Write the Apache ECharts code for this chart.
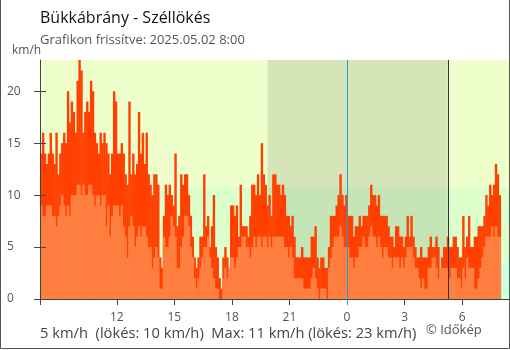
<!DOCTYPE html>
<html><head><meta charset="utf-8">
<script src="https://cdn.jsdelivr.net/npm/echarts@6/dist/echarts.min.js"></script>
<style>html,body{margin:0;padding:0;background:#fff}#c{width:510px;height:350px}</style>
</head><body><div id="c"></div>
<script>
// time axis: hours from 8:00 (day 1) in 0.1 h (6 min) steps
const startHour = 8;
const stepHour = 0.1;
// gusts (km/h), 10 values per hour, 8:00 -> 8:00 next day
const gust = [
 14,16,14,13,14,16,14,13,16,12,
 14,15,16,15,20,17,19,18,16,21,
 23,22,16,18,19,18,21,20,16,15,
 14,16,15,16,15,14,12,14,20,19,
 14,14,15,14,12,11,19,12,14,12,
 13,18,14,16,13,16,12,11,10,12,
 12,11,4,3,8,11,10,11,10,9,
 14,7,8,12,11,12,12,10,8,6,
 4,3,4,6,6,12,7,8,5,7,
 10,5,4,2,1,4,5,4,3,9,
 9,8,9,6,11,7,7,7,6,8,
 11,11,10,12,10,15,12,11,9,10,
 8,12,12,11,11,10,11,10,8,8,
 7,8,6,4,4,4,5,4,4,4,
 4,6,6,7,4,3,4,4,3,3,
 5,8,8,8,9,10,12,10,9,10,
 8,8,8,6,7,7,8,7,8,8,
 8,9,11,10,10,9,10,8,8,8,
 8,7,6,6,5,7,7,6,6,5,
 6,8,6,8,6,5,4,4,5,4,
 4,4,5,6,5,5,6,5,3,4,
 5,5,6,5,5,6,6,5,4,4,
 8,5,6,8,5,5,6,6,7,7,
 7,8,10,9,11,10,11,13,12,10
];
// mean wind speed (km/h)
const wind = [
 9,8,8,9,9,9,8,8,7,8,
 9,10,9,8,9,8,10,10,10,11,
 11,10,11,10,10,11,11,10,9,10,
 10,9,10,10,7,9,6,8,9,9,
 9,8,9,7,6,4,7,8,7,5,
 6,7,6,7,7,6,5,5,3,4,
 5,4,1,1,6,5,5,6,8,7,
 6,3,3,5,6,8,8,7,5,4,
 2,1,2,3,4,5,5,6,4,3,
 2,1,1,0,0,2,3,2,3,4,
 4,3,4,5,5,6,6,5,5,4,
 5,6,5,6,6,5,6,6,5,6,
 5,6,6,6,6,6,6,5,5,4,
 5,4,2,2,2,2,2,1,1,1,
 1,2,3,2,1,0,1,1,1,0,
 3,4,5,6,6,6,7,6,5,5,
 5,4,4,3,4,4,5,5,6,5,
 5,6,7,6,6,5,6,5,4,5,
 5,4,4,3,4,4,4,3,4,3,
 4,5,5,5,4,3,3,2,1,2,
 1,1,3,3,4,4,3,2,3,3,
 3,3,3,2,3,3,3,2,2,1,
 3,2,4,3,3,3,1,1,2,3,
 4,5,6,6,6,7,6,7,6,6
];
const tickHours = [8, 12, 15, 18, 21, 27, 30];
const labelHours = [12, 15, 18, 21, 24, 27, 30];
const yTicks = [0, 5, 10, 15, 20];
const midnight = 24;
const sunset = 19.85;
const sunrise = 29.25;
const bands = [[0, 3.6], [3.6, 10.8], [10.8, 23]];
const bandColors = ['#ccffdd', '#ddffcc', '#eeffcc'];
const titleText = 'Bükkábrány - Széllökés';
const subText = 'Grafikon frissítve: 2025.05.02 8:00';
const footText = '5 km/h  (lökés: 10 km/h)  Max: 11 km/h (lökés: 23 km/h)';

const times = gust.map((_, i) => startHour + i * stepHour);
const pairs = arr => arr.map((v, i) => [times[i], v]);
const barRender = color => (params, api) => {
  const t = api.value(0), v = api.value(1);
  const p0 = api.coord([t, v]);
  const p1 = api.coord([t + stepHour, 0]);
  return {type: 'rect', shape: {x: p0[0], y: p0[1], width: p1[0] - p0[0] + 0.5, height: p1[1] - p0[1]},
          style: {fill: color}, silent: true};
};
const F = 'Open Sans';
const chart = echarts.init(document.getElementById('c'), null, {renderer: 'canvas'});
chart.setOption({
  animation: false,
  grid: {left: 40, right: 1, top: 60, bottom: 51},
  xAxis: [{
    type: 'value', min: 8, max: 32.44, z: 10,
    splitLine: {show: false},
    axisLine: {lineStyle: {color: '#444', width: 1}},
    axisTick: {customValues: tickHours, length: 6, lineStyle: {color: '#444'}},
    axisLabel: {customValues: labelHours, formatter: v => String(Math.round(v) % 24), color: '#555', fontFamily: F, fontSize: 12, margin: 13}
  }, {
    type: 'value', min: 8, max: 32.44, position: 'bottom', z: 11,
    splitLine: {show: false}, axisLine: {show: false},
    axisTick: {customValues: [midnight], length: 6, lineStyle: {color: '#2a9ae0'}},
    axisLabel: {show: false}
  }],
  yAxis: [{
    type: 'value', min: 0, max: 23, z: 10,
    splitLine: {show: false},
    axisLine: {show: true, lineStyle: {color: '#444'}},
    axisTick: {show: true, customValues: yTicks, length: 6, lineStyle: {color: '#444'}},
    axisLabel: {customValues: yTicks, color: '#555', fontFamily: F, fontSize: 12, align: 'left', margin: 33}
  }, {
    type: 'value', min: 0, max: 23, position: 'left', z: 10,
    splitLine: {show: false}, axisLine: {show: false},
    axisTick: {show: true, customValues: yTicks, inside: true, length: 6, lineStyle: {color: '#444'}},
    axisLabel: {show: false}
  }],
  series: [{
    type: 'line', data: [], z: 0, silent: true,
    markArea: {silent: true, data: bands.map((b, i) => [{yAxis: b[0], itemStyle: {color: bandColors[i]}}, {yAxis: b[1]}])}
  }, {
    type: 'line', data: [], z: 1, silent: true,
    markArea: {silent: true, itemStyle: {color: 'rgba(0,0,0,0.1)'}, data: [[{xAxis: sunset}, {xAxis: sunrise}]]}
  }, {
    name: 'gust', type: 'custom', z: 2, silent: true, clip: true,
    data: pairs(gust), renderItem: barRender('#ff4000')
  }, {
    type: 'line', data: [], z: 3, silent: true,
    markLine: {silent: true, symbol: 'none', label: {show: false},
      data: [{xAxis: midnight, lineStyle: {color: '#2a9ae0', width: 1, type: 'solid'}},
             {xAxis: sunrise, lineStyle: {color: '#333', width: 1, type: 'solid'}}]}
  }, {
    name: 'wind', type: 'custom', z: 4, silent: true, clip: true,
    data: pairs(wind), renderItem: barRender('#ff7f40')
  }],
  graphic: [
    {type: 'text', x: 40, y: 18, style: {text: titleText, font: '16px "Open Sans"', fill: '#111', verticalAlign: 'middle'}},
    {type: 'text', x: 40, y: 40, style: {text: subText, font: '13px "Open Sans"', fill: '#555', verticalAlign: 'middle'}},
    {type: 'text', x: 12, y: 51, style: {text: 'km/h', font: '12px "Open Sans"', fill: '#555', verticalAlign: 'middle'}},
    {type: 'text', x: 40, y: 334, style: {text: footText, font: '14.7px "Open Sans"', fill: '#444', verticalAlign: 'middle'}},
    {type: 'text', x: 426, y: 330.5, style: {text: '© Időkép', font: '13px "Open Sans"', fill: '#555', verticalAlign: 'middle'}},
    {type: 'polyline', shape: {points: [[0.5, 0], [0.5, 348.5], [509.5, 348.5], [509.5, 0]]}, style: {stroke: '#555', lineWidth: 1, fill: null}}
  ]
});
</script></body></html>
